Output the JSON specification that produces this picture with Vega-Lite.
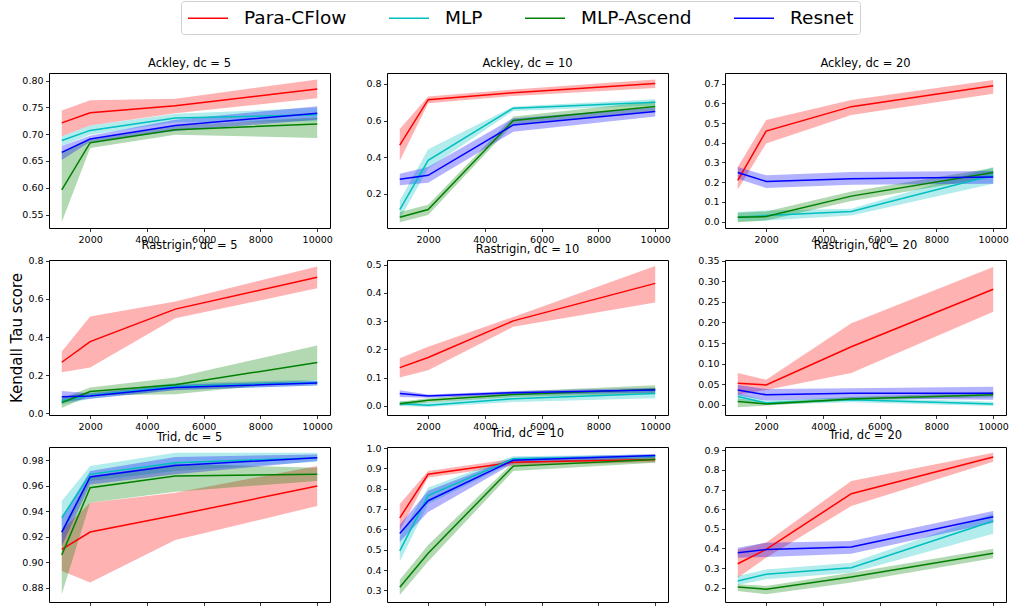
{
  "$schema": "https://vega.github.io/schema/vega-lite/v6.json",
  "autosize": {"type": "pad"},
  "padding": {"left": 8, "top": 0, "right": 0, "bottom": 0},
  "background": "white",
  "datasets": {
    "d": [
      {"p":"A5","m":"Para-CFlow","x":1000,"y":0.721,"lo":0.696,"hi":0.744},
      {"p":"A5","m":"Para-CFlow","x":2000,"y":0.740,"lo":0.716,"hi":0.763},
      {"p":"A5","m":"Para-CFlow","x":5000,"y":0.753,"lo":0.739,"hi":0.766},
      {"p":"A5","m":"Para-CFlow","x":10000,"y":0.784,"lo":0.767,"hi":0.802},
      {"p":"A5","m":"MLP","x":1000,"y":0.688,"lo":0.678,"hi":0.696},
      {"p":"A5","m":"MLP","x":2000,"y":0.707,"lo":0.699,"hi":0.716},
      {"p":"A5","m":"MLP","x":5000,"y":0.730,"lo":0.722,"hi":0.738},
      {"p":"A5","m":"MLP","x":10000,"y":0.736,"lo":0.724,"hi":0.749},
      {"p":"A5","m":"MLP-Ascend","x":1000,"y":0.596,"lo":0.536,"hi":0.668},
      {"p":"A5","m":"MLP-Ascend","x":2000,"y":0.684,"lo":0.674,"hi":0.689},
      {"p":"A5","m":"MLP-Ascend","x":5000,"y":0.708,"lo":0.699,"hi":0.716},
      {"p":"A5","m":"MLP-Ascend","x":10000,"y":0.719,"lo":0.693,"hi":0.731},
      {"p":"A5","m":"Resnet","x":1000,"y":0.666,"lo":0.652,"hi":0.678},
      {"p":"A5","m":"Resnet","x":2000,"y":0.691,"lo":0.686,"hi":0.697},
      {"p":"A5","m":"Resnet","x":5000,"y":0.716,"lo":0.706,"hi":0.727},
      {"p":"A5","m":"Resnet","x":10000,"y":0.739,"lo":0.727,"hi":0.752},

      {"p":"A10","m":"Para-CFlow","x":1000,"y":0.466,"lo":0.38,"hi":0.554},
      {"p":"A10","m":"Para-CFlow","x":2000,"y":0.714,"lo":0.695,"hi":0.732},
      {"p":"A10","m":"Para-CFlow","x":5000,"y":0.752,"lo":0.735,"hi":0.77},
      {"p":"A10","m":"Para-CFlow","x":10000,"y":0.802,"lo":0.778,"hi":0.824},
      {"p":"A10","m":"MLP","x":1000,"y":0.114,"lo":0.062,"hi":0.163},
      {"p":"A10","m":"MLP","x":2000,"y":0.383,"lo":0.338,"hi":0.444},
      {"p":"A10","m":"MLP","x":5000,"y":0.668,"lo":0.653,"hi":0.677},
      {"p":"A10","m":"MLP","x":10000,"y":0.70,"lo":0.683,"hi":0.717},
      {"p":"A10","m":"MLP-Ascend","x":1000,"y":0.072,"lo":0.044,"hi":0.10},
      {"p":"A10","m":"MLP-Ascend","x":2000,"y":0.114,"lo":0.084,"hi":0.14},
      {"p":"A10","m":"MLP-Ascend","x":5000,"y":0.60,"lo":0.58,"hi":0.622},
      {"p":"A10","m":"MLP-Ascend","x":10000,"y":0.677,"lo":0.653,"hi":0.705},
      {"p":"A10","m":"Resnet","x":1000,"y":0.279,"lo":0.246,"hi":0.31},
      {"p":"A10","m":"Resnet","x":2000,"y":0.301,"lo":0.26,"hi":0.347},
      {"p":"A10","m":"Resnet","x":5000,"y":0.576,"lo":0.539,"hi":0.613},
      {"p":"A10","m":"Resnet","x":10000,"y":0.65,"lo":0.622,"hi":0.672},

      {"p":"A20","m":"Para-CFlow","x":1000,"y":0.209,"lo":0.163,"hi":0.277},
      {"p":"A20","m":"Para-CFlow","x":2000,"y":0.46,"lo":0.397,"hi":0.516},
      {"p":"A20","m":"Para-CFlow","x":5000,"y":0.584,"lo":0.542,"hi":0.618},
      {"p":"A20","m":"Para-CFlow","x":10000,"y":0.69,"lo":0.649,"hi":0.72},
      {"p":"A20","m":"MLP","x":1000,"y":0.022,"lo":0.0,"hi":0.048},
      {"p":"A20","m":"MLP","x":2000,"y":0.03,"lo":0.005,"hi":0.056},
      {"p":"A20","m":"MLP","x":5000,"y":0.051,"lo":0.03,"hi":0.065},
      {"p":"A20","m":"MLP","x":10000,"y":0.235,"lo":0.192,"hi":0.277},
      {"p":"A20","m":"MLP-Ascend","x":1000,"y":0.022,"lo":-0.004,"hi":0.044},
      {"p":"A20","m":"MLP-Ascend","x":2000,"y":0.025,"lo":0.005,"hi":0.051},
      {"p":"A20","m":"MLP-Ascend","x":5000,"y":0.129,"lo":0.104,"hi":0.153},
      {"p":"A20","m":"MLP-Ascend","x":10000,"y":0.249,"lo":0.226,"hi":0.272},
      {"p":"A20","m":"Resnet","x":1000,"y":0.249,"lo":0.218,"hi":0.277},
      {"p":"A20","m":"Resnet","x":2000,"y":0.204,"lo":0.17,"hi":0.235},
      {"p":"A20","m":"Resnet","x":5000,"y":0.218,"lo":0.187,"hi":0.252},
      {"p":"A20","m":"Resnet","x":10000,"y":0.226,"lo":0.192,"hi":0.257},

      {"p":"R5","m":"Para-CFlow","x":1000,"y":0.268,"lo":0.216,"hi":0.324},
      {"p":"R5","m":"Para-CFlow","x":2000,"y":0.376,"lo":0.24,"hi":0.507},
      {"p":"R5","m":"Para-CFlow","x":5000,"y":0.546,"lo":0.498,"hi":0.586},
      {"p":"R5","m":"Para-CFlow","x":10000,"y":0.713,"lo":0.655,"hi":0.769},
      {"p":"R5","m":"MLP","x":1000,"y":0.066,"lo":0.045,"hi":0.087},
      {"p":"R5","m":"MLP","x":2000,"y":0.094,"lo":0.077,"hi":0.11},
      {"p":"R5","m":"MLP","x":5000,"y":0.141,"lo":0.124,"hi":0.159},
      {"p":"R5","m":"MLP","x":10000,"y":0.162,"lo":0.146,"hi":0.176},
      {"p":"R5","m":"MLP-Ascend","x":1000,"y":0.057,"lo":0.028,"hi":0.08},
      {"p":"R5","m":"MLP-Ascend","x":2000,"y":0.115,"lo":0.094,"hi":0.136},
      {"p":"R5","m":"MLP-Ascend","x":5000,"y":0.15,"lo":0.101,"hi":0.188},
      {"p":"R5","m":"MLP-Ascend","x":10000,"y":0.267,"lo":0.176,"hi":0.356},
      {"p":"R5","m":"Resnet","x":1000,"y":0.087,"lo":0.059,"hi":0.118},
      {"p":"R5","m":"Resnet","x":2000,"y":0.092,"lo":0.077,"hi":0.106},
      {"p":"R5","m":"Resnet","x":5000,"y":0.136,"lo":0.122,"hi":0.15},
      {"p":"R5","m":"Resnet","x":10000,"y":0.159,"lo":0.146,"hi":0.171},

      {"p":"R10","m":"Para-CFlow","x":1000,"y":0.135,"lo":0.10,"hi":0.168},
      {"p":"R10","m":"Para-CFlow","x":2000,"y":0.171,"lo":0.126,"hi":0.209},
      {"p":"R10","m":"Para-CFlow","x":5000,"y":0.301,"lo":0.28,"hi":0.315},
      {"p":"R10","m":"Para-CFlow","x":10000,"y":0.434,"lo":0.366,"hi":0.496},
      {"p":"R10","m":"MLP","x":1000,"y":0.007,"lo":-0.001,"hi":0.017},
      {"p":"R10","m":"MLP","x":2000,"y":0.002,"lo":-0.005,"hi":0.011},
      {"p":"R10","m":"MLP","x":5000,"y":0.025,"lo":0.013,"hi":0.037},
      {"p":"R10","m":"MLP","x":10000,"y":0.043,"lo":0.026,"hi":0.058},
      {"p":"R10","m":"MLP-Ascend","x":1000,"y":0.007,"lo":0.0,"hi":0.014},
      {"p":"R10","m":"MLP-Ascend","x":2000,"y":0.019,"lo":0.011,"hi":0.026},
      {"p":"R10","m":"MLP-Ascend","x":5000,"y":0.04,"lo":0.031,"hi":0.05},
      {"p":"R10","m":"MLP-Ascend","x":10000,"y":0.058,"lo":0.043,"hi":0.073},
      {"p":"R10","m":"Resnet","x":1000,"y":0.043,"lo":0.031,"hi":0.055},
      {"p":"R10","m":"Resnet","x":2000,"y":0.034,"lo":0.028,"hi":0.04},
      {"p":"R10","m":"Resnet","x":5000,"y":0.046,"lo":0.038,"hi":0.052},
      {"p":"R10","m":"Resnet","x":10000,"y":0.056,"lo":0.046,"hi":0.064},

      {"p":"R20","m":"Para-CFlow","x":1000,"y":0.0525,"lo":0.024,"hi":0.077},
      {"p":"R20","m":"Para-CFlow","x":2000,"y":0.048,"lo":0.036,"hi":0.061},
      {"p":"R20","m":"Para-CFlow","x":5000,"y":0.141,"lo":0.077,"hi":0.198},
      {"p":"R20","m":"Para-CFlow","x":10000,"y":0.281,"lo":0.226,"hi":0.335},
      {"p":"R20","m":"MLP","x":1000,"y":0.02,"lo":0.01,"hi":0.028},
      {"p":"R20","m":"MLP","x":2000,"y":0.004,"lo":0.0,"hi":0.01},
      {"p":"R20","m":"MLP","x":5000,"y":0.012,"lo":0.006,"hi":0.018},
      {"p":"R20","m":"MLP","x":10000,"y":0.002,"lo":-0.003,"hi":0.007},
      {"p":"R20","m":"MLP-Ascend","x":1000,"y":0.008,"lo":-0.006,"hi":0.016},
      {"p":"R20","m":"MLP-Ascend","x":2000,"y":0.002,"lo":-0.002,"hi":0.006},
      {"p":"R20","m":"MLP-Ascend","x":5000,"y":0.014,"lo":0.01,"hi":0.019},
      {"p":"R20","m":"MLP-Ascend","x":10000,"y":0.024,"lo":0.018,"hi":0.031},
      {"p":"R20","m":"Resnet","x":1000,"y":0.036,"lo":0.023,"hi":0.048},
      {"p":"R20","m":"Resnet","x":2000,"y":0.024,"lo":0.01,"hi":0.038},
      {"p":"R20","m":"Resnet","x":5000,"y":0.028,"lo":0.016,"hi":0.04},
      {"p":"R20","m":"Resnet","x":10000,"y":0.028,"lo":0.012,"hi":0.044},

      {"p":"T5","m":"Para-CFlow","x":1000,"y":0.910,"lo":0.893,"hi":0.925},
      {"p":"T5","m":"Para-CFlow","x":2000,"y":0.9236,"lo":0.884,"hi":0.9466},
      {"p":"T5","m":"Para-CFlow","x":5000,"y":0.9367,"lo":0.9173,"hi":0.9544},
      {"p":"T5","m":"Para-CFlow","x":10000,"y":0.9596,"lo":0.944,"hi":0.9753},
      {"p":"T5","m":"MLP","x":1000,"y":0.9348,"lo":0.9205,"hi":0.9479},
      {"p":"T5","m":"MLP","x":2000,"y":0.9688,"lo":0.9636,"hi":0.9753},
      {"p":"T5","m":"MLP","x":5000,"y":0.9779,"lo":0.9714,"hi":0.9857},
      {"p":"T5","m":"MLP","x":10000,"y":0.9818,"lo":0.9787,"hi":0.9857},
      {"p":"T5","m":"MLP-Ascend","x":1000,"y":0.9056,"lo":0.8748,"hi":0.9244},
      {"p":"T5","m":"MLP-Ascend","x":2000,"y":0.9583,"lo":0.9466,"hi":0.9675},
      {"p":"T5","m":"MLP-Ascend","x":5000,"y":0.9675,"lo":0.9552,"hi":0.9771},
      {"p":"T5","m":"MLP-Ascend","x":10000,"y":0.9688,"lo":0.9636,"hi":0.974},
      {"p":"T5","m":"Resnet","x":1000,"y":0.9236,"lo":0.9126,"hi":0.9348},
      {"p":"T5","m":"Resnet","x":2000,"y":0.9667,"lo":0.9609,"hi":0.9714},
      {"p":"T5","m":"Resnet","x":5000,"y":0.9758,"lo":0.9688,"hi":0.9823},
      {"p":"T5","m":"Resnet","x":10000,"y":0.9818,"lo":0.9792,"hi":0.9844},

      {"p":"T10","m":"Para-CFlow","x":1000,"y":0.657,"lo":0.596,"hi":0.725},
      {"p":"T10","m":"Para-CFlow","x":2000,"y":0.871,"lo":0.855,"hi":0.887},
      {"p":"T10","m":"Para-CFlow","x":5000,"y":0.93,"lo":0.914,"hi":0.947},
      {"p":"T10","m":"Para-CFlow","x":10000,"y":0.943,"lo":0.93,"hi":0.955},
      {"p":"T10","m":"MLP","x":1000,"y":0.494,"lo":0.442,"hi":0.564},
      {"p":"T10","m":"MLP","x":2000,"y":0.766,"lo":0.725,"hi":0.806},
      {"p":"T10","m":"MLP","x":5000,"y":0.947,"lo":0.93,"hi":0.96},
      {"p":"T10","m":"MLP","x":10000,"y":0.96,"lo":0.947,"hi":0.968},
      {"p":"T10","m":"MLP-Ascend","x":1000,"y":0.316,"lo":0.277,"hi":0.353},
      {"p":"T10","m":"MLP-Ascend","x":2000,"y":0.483,"lo":0.442,"hi":0.523},
      {"p":"T10","m":"MLP-Ascend","x":5000,"y":0.911,"lo":0.887,"hi":0.93},
      {"p":"T10","m":"MLP-Ascend","x":10000,"y":0.943,"lo":0.927,"hi":0.956},
      {"p":"T10","m":"Resnet","x":1000,"y":0.58,"lo":0.539,"hi":0.623},
      {"p":"T10","m":"Resnet","x":2000,"y":0.741,"lo":0.685,"hi":0.79},
      {"p":"T10","m":"Resnet","x":5000,"y":0.94,"lo":0.924,"hi":0.952},
      {"p":"T10","m":"Resnet","x":10000,"y":0.963,"lo":0.952,"hi":0.971},

      {"p":"T20","m":"Para-CFlow","x":1000,"y":0.322,"lo":0.251,"hi":0.395},
      {"p":"T20","m":"Para-CFlow","x":2000,"y":0.395,"lo":0.353,"hi":0.43},
      {"p":"T20","m":"Para-CFlow","x":5000,"y":0.679,"lo":0.616,"hi":0.744},
      {"p":"T20","m":"Para-CFlow","x":10000,"y":0.866,"lo":0.842,"hi":0.888},
      {"p":"T20","m":"MLP","x":1000,"y":0.234,"lo":0.214,"hi":0.26},
      {"p":"T20","m":"MLP","x":2000,"y":0.268,"lo":0.243,"hi":0.293},
      {"p":"T20","m":"MLP","x":5000,"y":0.302,"lo":0.276,"hi":0.327},
      {"p":"T20","m":"MLP","x":10000,"y":0.54,"lo":0.475,"hi":0.577},
      {"p":"T20","m":"MLP-Ascend","x":1000,"y":0.203,"lo":0.183,"hi":0.217},
      {"p":"T20","m":"MLP-Ascend","x":2000,"y":0.192,"lo":0.166,"hi":0.209},
      {"p":"T20","m":"MLP-Ascend","x":5000,"y":0.254,"lo":0.226,"hi":0.276},
      {"p":"T20","m":"MLP-Ascend","x":10000,"y":0.375,"lo":0.35,"hi":0.399},
      {"p":"T20","m":"Resnet","x":1000,"y":0.378,"lo":0.353,"hi":0.404},
      {"p":"T20","m":"Resnet","x":2000,"y":0.395,"lo":0.356,"hi":0.429},
      {"p":"T20","m":"Resnet","x":5000,"y":0.407,"lo":0.373,"hi":0.438},
      {"p":"T20","m":"Resnet","x":10000,"y":0.562,"lo":0.531,"hi":0.591}
    ]
  },
  "data": {"name": "d"},
  "bounds": "flush",
  "columns": 3,
  "spacing": {"row": 32, "column": 57},
  "concat": [
    {
      "title": "Ackley, dc = 5", "width": 281, "height": 155,
      "transform": [{"filter": "datum.p === 'A5'"}],
      "encoding": {"x": {"field": "x", "type": "quantitative", "title": null, "scale": {"domain": [550, 10450], "nice": false, "zero": false}, "axis": {"values": [2000, 4000, 6000, 8000, 10000], "format": "d"}}},
      "layer": [
        {"mark": {"type": "area", "opacity": 0.3}, "encoding": {"y": {"field": "lo", "type": "quantitative", "title": null, "scale": {"domain": [0.525, 0.814], "nice": false, "zero": false}, "axis": {"values": [0.55, 0.6, 0.65, 0.7, 0.75, 0.8], "format": ".2f"}}, "y2": {"field": "hi"}, "color": {"field": "m", "type": "nominal", "title": null}}},
        {"mark": {"type": "line", "strokeWidth": 1.5}, "encoding": {"y": {"field": "y", "type": "quantitative", "title": null}, "color": {"field": "m", "type": "nominal", "title": null, "scale": {"domain": ["Para-CFlow", "MLP", "MLP-Ascend", "Resnet"], "range": ["#ff0000", "#00bfbf", "#008000", "#0000ff"]}}}}
      ]
    },
    {
      "title": "Ackley, dc = 10", "width": 281, "height": 155,
      "transform": [{"filter": "datum.p === 'A10'"}],
      "encoding": {"x": {"field": "x", "type": "quantitative", "title": null, "scale": {"domain": [550, 10450], "nice": false, "zero": false}, "axis": {"values": [2000, 4000, 6000, 8000, 10000], "format": "d"}}},
      "layer": [
        {"mark": {"type": "area", "opacity": 0.3}, "encoding": {"y": {"field": "lo", "type": "quantitative", "title": null, "scale": {"domain": [0.013, 0.86], "nice": false, "zero": false}, "axis": {"values": [0.2, 0.4, 0.6, 0.8], "format": ".1f"}}, "y2": {"field": "hi"}, "color": {"field": "m", "type": "nominal", "title": null}}},
        {"mark": {"type": "line", "strokeWidth": 1.5}, "encoding": {"y": {"field": "y", "type": "quantitative", "title": null}, "color": {"field": "m", "type": "nominal", "title": null, "scale": {"domain": ["Para-CFlow", "MLP", "MLP-Ascend", "Resnet"], "range": ["#ff0000", "#00bfbf", "#008000", "#0000ff"]}}}}
      ]
    },
    {
      "title": "Ackley, dc = 20", "width": 281, "height": 155,
      "transform": [{"filter": "datum.p === 'A20'"}],
      "encoding": {"x": {"field": "x", "type": "quantitative", "title": null, "scale": {"domain": [550, 10450], "nice": false, "zero": false}, "axis": {"values": [2000, 4000, 6000, 8000, 10000], "format": "d"}}},
      "layer": [
        {"mark": {"type": "area", "opacity": 0.3}, "encoding": {"y": {"field": "lo", "type": "quantitative", "title": null, "scale": {"domain": [-0.033, 0.755], "nice": false, "zero": false}, "axis": {"values": [0, 0.1, 0.2, 0.3, 0.4, 0.5, 0.6, 0.7], "format": ".1f"}}, "y2": {"field": "hi"}, "color": {"field": "m", "type": "nominal", "title": null}}},
        {"mark": {"type": "line", "strokeWidth": 1.5}, "encoding": {"y": {"field": "y", "type": "quantitative", "title": null}, "color": {"field": "m", "type": "nominal", "title": null, "scale": {"domain": ["Para-CFlow", "MLP", "MLP-Ascend", "Resnet"], "range": ["#ff0000", "#00bfbf", "#008000", "#0000ff"]}}}}
      ]
    },
    {
      "title": "Rastrigin, dc = 5", "width": 281, "height": 155,
      "transform": [{"filter": "datum.p === 'R5'"}],
      "encoding": {"x": {"field": "x", "type": "quantitative", "title": null, "scale": {"domain": [550, 10450], "nice": false, "zero": false}, "axis": {"values": [2000, 4000, 6000, 8000, 10000], "format": "d"}}},
      "layer": [
        {"mark": {"type": "area", "opacity": 0.3}, "encoding": {"y": {"field": "lo", "type": "quantitative", "title": "Kendall Tau score", "scale": {"domain": [-0.008, 0.803], "nice": false, "zero": false}, "axis": {"values": [0, 0.2, 0.4, 0.6, 0.8], "format": ".1f", "titleFontSize": 15, "titleFontWeight": "normal", "titleColor": "#000", "minExtent": 21, "maxExtent": 21, "titlePadding": 4}}, "y2": {"field": "hi"}, "color": {"field": "m", "type": "nominal", "title": null}}},
        {"mark": {"type": "line", "strokeWidth": 1.5}, "encoding": {"y": {"field": "y", "type": "quantitative", "title": "Kendall Tau score"}, "color": {"field": "m", "type": "nominal", "title": null, "scale": {"domain": ["Para-CFlow", "MLP", "MLP-Ascend", "Resnet"], "range": ["#ff0000", "#00bfbf", "#008000", "#0000ff"]}}}}
      ]
    },
    {
      "title": "Rastrigin, dc = 10", "width": 281, "height": 155,
      "transform": [{"filter": "datum.p === 'R10'"}],
      "encoding": {"x": {"field": "x", "type": "quantitative", "title": null, "scale": {"domain": [550, 10450], "nice": false, "zero": false}, "axis": {"values": [2000, 4000, 6000, 8000, 10000], "format": "d"}}},
      "layer": [
        {"mark": {"type": "area", "opacity": 0.3}, "encoding": {"y": {"field": "lo", "type": "quantitative", "title": null, "scale": {"domain": [-0.033, 0.517], "nice": false, "zero": false}, "axis": {"values": [0, 0.1, 0.2, 0.3, 0.4, 0.5], "format": ".1f"}}, "y2": {"field": "hi"}, "color": {"field": "m", "type": "nominal", "title": null}}},
        {"mark": {"type": "line", "strokeWidth": 1.5}, "encoding": {"y": {"field": "y", "type": "quantitative", "title": null}, "color": {"field": "m", "type": "nominal", "title": null, "scale": {"domain": ["Para-CFlow", "MLP", "MLP-Ascend", "Resnet"], "range": ["#ff0000", "#00bfbf", "#008000", "#0000ff"]}}}}
      ]
    },
    {
      "title": "Rastrigin, dc = 20", "width": 281, "height": 155,
      "transform": [{"filter": "datum.p === 'R20'"}],
      "encoding": {"x": {"field": "x", "type": "quantitative", "title": null, "scale": {"domain": [550, 10450], "nice": false, "zero": false}, "axis": {"values": [2000, 4000, 6000, 8000, 10000], "format": "d"}}},
      "layer": [
        {"mark": {"type": "area", "opacity": 0.3}, "encoding": {"y": {"field": "lo", "type": "quantitative", "title": null, "scale": {"domain": [-0.025, 0.352], "nice": false, "zero": false}, "axis": {"values": [0, 0.05, 0.1, 0.15, 0.2, 0.25, 0.3, 0.35], "format": ".2f"}}, "y2": {"field": "hi"}, "color": {"field": "m", "type": "nominal", "title": null}}},
        {"mark": {"type": "line", "strokeWidth": 1.5}, "encoding": {"y": {"field": "y", "type": "quantitative", "title": null}, "color": {"field": "m", "type": "nominal", "title": null, "scale": {"domain": ["Para-CFlow", "MLP", "MLP-Ascend", "Resnet"], "range": ["#ff0000", "#00bfbf", "#008000", "#0000ff"]}}}}
      ]
    },
    {
      "title": "Trid, dc = 5", "width": 281, "height": 155,
      "transform": [{"filter": "datum.p === 'T5'"}],
      "encoding": {"x": {"field": "x", "type": "quantitative", "title": null, "scale": {"domain": [550, 10450], "nice": false, "zero": false}, "axis": {"values": [2000, 4000, 6000, 8000, 10000], "format": "d"}}},
      "layer": [
        {"mark": {"type": "area", "opacity": 0.3}, "encoding": {"y": {"field": "lo", "type": "quantitative", "title": null, "scale": {"domain": [0.8688, 0.9902], "nice": false, "zero": false}, "axis": {"values": [0.88, 0.9, 0.92, 0.94, 0.96, 0.98], "format": ".2f"}}, "y2": {"field": "hi"}, "color": {"field": "m", "type": "nominal", "title": null}}},
        {"mark": {"type": "line", "strokeWidth": 1.5}, "encoding": {"y": {"field": "y", "type": "quantitative", "title": null}, "color": {"field": "m", "type": "nominal", "title": null, "scale": {"domain": ["Para-CFlow", "MLP", "MLP-Ascend", "Resnet"], "range": ["#ff0000", "#00bfbf", "#008000", "#0000ff"]}}}}
      ]
    },
    {
      "title": "Trid, dc = 10", "width": 281, "height": 155,
      "transform": [{"filter": "datum.p === 'T10'"}],
      "encoding": {"x": {"field": "x", "type": "quantitative", "title": null, "scale": {"domain": [550, 10450], "nice": false, "zero": false}, "axis": {"values": [2000, 4000, 6000, 8000, 10000], "format": "d"}}},
      "layer": [
        {"mark": {"type": "area", "opacity": 0.3}, "encoding": {"y": {"field": "lo", "type": "quantitative", "title": null, "scale": {"domain": [0.243, 1.005], "nice": false, "zero": false}, "axis": {"values": [0.3, 0.4, 0.5, 0.6, 0.7, 0.8, 0.9, 1.0], "format": ".1f"}}, "y2": {"field": "hi"}, "color": {"field": "m", "type": "nominal", "title": null}}},
        {"mark": {"type": "line", "strokeWidth": 1.5}, "encoding": {"y": {"field": "y", "type": "quantitative", "title": null}, "color": {"field": "m", "type": "nominal", "title": null, "scale": {"domain": ["Para-CFlow", "MLP", "MLP-Ascend", "Resnet"], "range": ["#ff0000", "#00bfbf", "#008000", "#0000ff"]}}}}
      ]
    },
    {
      "title": "Trid, dc = 20", "width": 281, "height": 155,
      "transform": [{"filter": "datum.p === 'T20'"}],
      "encoding": {"x": {"field": "x", "type": "quantitative", "title": null, "scale": {"domain": [550, 10450], "nice": false, "zero": false}, "axis": {"values": [2000, 4000, 6000, 8000, 10000], "format": "d"}}},
      "layer": [
        {"mark": {"type": "area", "opacity": 0.3}, "encoding": {"y": {"field": "lo", "type": "quantitative", "title": null, "scale": {"domain": [0.127, 0.917], "nice": false, "zero": false}, "axis": {"values": [0.2, 0.3, 0.4, 0.5, 0.6, 0.7, 0.8, 0.9], "format": ".1f"}}, "y2": {"field": "hi"}, "color": {"field": "m", "type": "nominal", "title": null}}},
        {"mark": {"type": "line", "strokeWidth": 1.5}, "encoding": {"y": {"field": "y", "type": "quantitative", "title": null}, "color": {"field": "m", "type": "nominal", "title": null, "scale": {"domain": ["Para-CFlow", "MLP", "MLP-Ascend", "Resnet"], "range": ["#ff0000", "#00bfbf", "#008000", "#0000ff"]}}}}
      ]
    }
  ],
  "config": {
    "font": "DejaVu Sans",
    "view": {"stroke": "#000", "strokeWidth": 1},
    "axis": {"domain": false, "grid": false, "tickColor": "#000", "tickSize": 3.5, "tickWidth": 0.8, "tickCount": 20, "labelColor": "#000", "labelFontSize": 9.5, "labelPadding": 2.5, "labelFont": "DejaVu Sans", "labelOverlap": false, "labelFlush": false},
    "title": {"fontSize": 11.5, "fontWeight": "normal", "font": "DejaVu Sans", "color": "#000", "anchor": "middle", "offset": 4},
    "legend": {"orient": "none", "legendX": 132, "legendY": -72, "direction": "horizontal", "symbolType": "M-1,0H3", "symbolSize": 400, "symbolStrokeWidth": 1.5, "symbolOpacity": 1, "symbolFillColor": "transparent", "labelFontSize": 18.5, "labelFont": "DejaVu Sans", "labelColor": "#000", "labelOffset": 35, "columnPadding": 39, "padding": 6, "strokeColor": "#d0d0d0", "cornerRadius": 3, "fillColor": "white", "titleFontSize": 0}
  }
}
